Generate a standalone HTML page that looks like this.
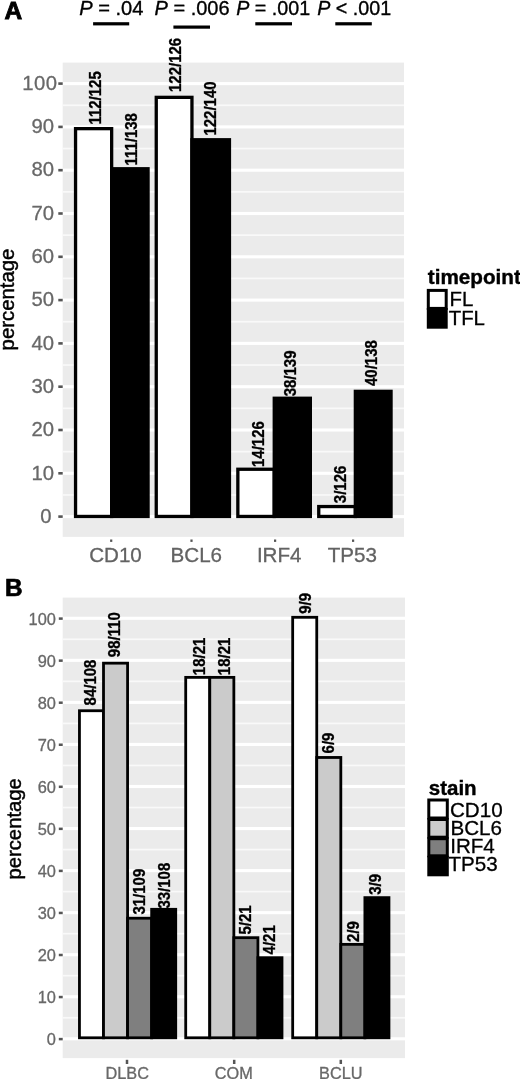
<!DOCTYPE html>
<html><head><meta charset="utf-8"><title>Figure</title>
<style>
html,body{margin:0;padding:0;background:#fff;}
body{width:520px;height:1079px;overflow:hidden;}
svg{display:block;filter:blur(0.45px);font-family:"Liberation Sans",sans-serif;}
svg text{font-family:"Liberation Sans",sans-serif;}
</style></head><body>
<svg width="520" height="1079" viewBox="0 0 520 1079">
<rect x="0" y="0" width="520" height="1079" fill="#fff"/>
<rect x="62.7" y="62.6" width="341.3" height="474.29999999999995" fill="#ebebeb"/>
<rect x="62.7" y="494.10" width="341.3" height="1.7" fill="#f9f9f9"/>
<rect x="62.7" y="450.80" width="341.3" height="1.7" fill="#f9f9f9"/>
<rect x="62.7" y="407.50" width="341.3" height="1.7" fill="#f9f9f9"/>
<rect x="62.7" y="364.20" width="341.3" height="1.7" fill="#f9f9f9"/>
<rect x="62.7" y="320.90" width="341.3" height="1.7" fill="#f9f9f9"/>
<rect x="62.7" y="277.60" width="341.3" height="1.7" fill="#f9f9f9"/>
<rect x="62.7" y="234.30" width="341.3" height="1.7" fill="#f9f9f9"/>
<rect x="62.7" y="191.00" width="341.3" height="1.7" fill="#f9f9f9"/>
<rect x="62.7" y="147.70" width="341.3" height="1.7" fill="#f9f9f9"/>
<rect x="62.7" y="104.40" width="341.3" height="1.7" fill="#f9f9f9"/>
<rect x="62.7" y="515.05" width="341.3" height="3.1" fill="#ffffff"/>
<rect x="62.7" y="471.75" width="341.3" height="3.1" fill="#ffffff"/>
<rect x="62.7" y="428.45" width="341.3" height="3.1" fill="#ffffff"/>
<rect x="62.7" y="385.15" width="341.3" height="3.1" fill="#ffffff"/>
<rect x="62.7" y="341.85" width="341.3" height="3.1" fill="#ffffff"/>
<rect x="62.7" y="298.55" width="341.3" height="3.1" fill="#ffffff"/>
<rect x="62.7" y="255.25" width="341.3" height="3.1" fill="#ffffff"/>
<rect x="62.7" y="211.95" width="341.3" height="3.1" fill="#ffffff"/>
<rect x="62.7" y="168.65" width="341.3" height="3.1" fill="#ffffff"/>
<rect x="62.7" y="125.35" width="341.3" height="3.1" fill="#ffffff"/>
<rect x="62.7" y="82.05" width="341.3" height="3.1" fill="#ffffff"/>
<rect x="58.3" y="515.30" width="4.4" height="2.6" fill="#555555"/>
<text x="51.60" y="522.80" font-size="20.3" font-weight="normal" fill="#686868" stroke="#686868" stroke-width="0.3" text-anchor="end"  style="">0</text>
<rect x="58.3" y="472.00" width="4.4" height="2.6" fill="#555555"/>
<text x="54.00" y="479.50" font-size="20.3" font-weight="normal" fill="#686868" stroke="#686868" stroke-width="0.3" text-anchor="end"  style="">10</text>
<rect x="58.3" y="428.70" width="4.4" height="2.6" fill="#555555"/>
<text x="54.00" y="436.20" font-size="20.3" font-weight="normal" fill="#686868" stroke="#686868" stroke-width="0.3" text-anchor="end"  style="">20</text>
<rect x="58.3" y="385.40" width="4.4" height="2.6" fill="#555555"/>
<text x="54.00" y="392.90" font-size="20.3" font-weight="normal" fill="#686868" stroke="#686868" stroke-width="0.3" text-anchor="end"  style="">30</text>
<rect x="58.3" y="342.10" width="4.4" height="2.6" fill="#555555"/>
<text x="54.00" y="349.60" font-size="20.3" font-weight="normal" fill="#686868" stroke="#686868" stroke-width="0.3" text-anchor="end"  style="">40</text>
<rect x="58.3" y="298.80" width="4.4" height="2.6" fill="#555555"/>
<text x="54.00" y="306.30" font-size="20.3" font-weight="normal" fill="#686868" stroke="#686868" stroke-width="0.3" text-anchor="end"  style="">50</text>
<rect x="58.3" y="255.50" width="4.4" height="2.6" fill="#555555"/>
<text x="54.00" y="263.00" font-size="20.3" font-weight="normal" fill="#686868" stroke="#686868" stroke-width="0.3" text-anchor="end"  style="">60</text>
<rect x="58.3" y="212.20" width="4.4" height="2.6" fill="#555555"/>
<text x="54.00" y="219.70" font-size="20.3" font-weight="normal" fill="#686868" stroke="#686868" stroke-width="0.3" text-anchor="end"  style="">70</text>
<rect x="58.3" y="168.90" width="4.4" height="2.6" fill="#555555"/>
<text x="54.00" y="176.40" font-size="20.3" font-weight="normal" fill="#686868" stroke="#686868" stroke-width="0.3" text-anchor="end"  style="">80</text>
<rect x="58.3" y="125.60" width="4.4" height="2.6" fill="#555555"/>
<text x="54.00" y="133.10" font-size="20.3" font-weight="normal" fill="#686868" stroke="#686868" stroke-width="0.3" text-anchor="end"  style="">90</text>
<rect x="58.3" y="82.30" width="4.4" height="2.6" fill="#555555"/>
<text x="22.30" y="89.80" font-size="20.3" font-weight="normal" fill="#686868" stroke="#686868" stroke-width="0.3" text-anchor="start"  style="letter-spacing:0.5px">100</text>
<rect x="75.55" y="128.65" width="36.10" height="387.80" fill="#fff" stroke="#000" stroke-width="3.3"/>
<rect x="156.25" y="97.35" width="35.70" height="419.10" fill="#fff" stroke="#000" stroke-width="3.3"/>
<rect x="237.85" y="469.25" width="36.40" height="47.20" fill="#fff" stroke="#000" stroke-width="3.3"/>
<rect x="318.75" y="506.55" width="36.60" height="9.90" fill="#fff" stroke="#000" stroke-width="3.3"/>
<rect x="110.00" y="167.10" width="39.70" height="351.00" fill="#000"/>
<rect x="190.30" y="138.10" width="40.80" height="380.00" fill="#000"/>
<rect x="272.60" y="396.60" width="39.40" height="121.50" fill="#000"/>
<rect x="353.70" y="389.70" width="39.00" height="128.40" fill="#000"/>
<text transform="translate(101.00,124.60) rotate(-90) scale(1,1.06)" font-size="15" font-weight="bold" fill="#000" stroke="#000" stroke-width="0.3" >112/125</text>
<text transform="translate(136.90,165.60) rotate(-90) scale(1,1.06)" font-size="15" font-weight="bold" fill="#000" stroke="#000" stroke-width="0.3" >111/138</text>
<text transform="translate(180.80,92.00) rotate(-90) scale(1,1.06)" font-size="15" font-weight="bold" fill="#000" stroke="#000" stroke-width="0.3" >122/126</text>
<text transform="translate(216.00,135.60) rotate(-90) scale(1,1.06)" font-size="15" font-weight="bold" fill="#000" stroke="#000" stroke-width="0.3" >122/140</text>
<text transform="translate(264.00,467.00) rotate(-90) scale(1,1.06)" font-size="15" font-weight="bold" fill="#000" stroke="#000" stroke-width="0.3" >14/126</text>
<text transform="translate(296.30,396.30) rotate(-90) scale(1,1.06)" font-size="15" font-weight="bold" fill="#000" stroke="#000" stroke-width="0.3" >38/139</text>
<text transform="translate(345.90,503.20) rotate(-90) scale(1,1.06)" font-size="15" font-weight="bold" fill="#000" stroke="#000" stroke-width="0.3" >3/126</text>
<text transform="translate(376.80,386.00) rotate(-90) scale(1,1.06)" font-size="15" font-weight="bold" fill="#000" stroke="#000" stroke-width="0.3" >40/138</text>
<rect x="110.10" y="539.5" width="2.2" height="2.4" fill="#555555"/>
<rect x="190.40" y="539.5" width="2.2" height="2.4" fill="#555555"/>
<rect x="274.00" y="539.5" width="2.2" height="2.4" fill="#555555"/>
<rect x="352.00" y="539.5" width="2.2" height="2.4" fill="#555555"/>
<text x="115.50" y="561.60" font-size="20.6" font-weight="normal" fill="#636363" stroke="#636363" stroke-width="0.3" text-anchor="middle"  style="">CD10</text>
<text x="196.30" y="561.60" font-size="20.6" font-weight="normal" fill="#636363" stroke="#636363" stroke-width="0.3" text-anchor="middle"  style="">BCL6</text>
<text x="279.20" y="561.60" font-size="20.6" font-weight="normal" fill="#636363" stroke="#636363" stroke-width="0.3" text-anchor="middle"  style="">IRF4</text>
<text x="352.30" y="561.60" font-size="20.6" font-weight="normal" fill="#636363" stroke="#636363" stroke-width="0.3" text-anchor="middle"  style="">TP53</text>
<text transform="translate(13.70,350.40) rotate(-90) scale(1,1)" font-size="20.35" font-weight="normal" fill="#000" stroke="#000" stroke-width="0.45" >percentage</text>
<text x="79.20" y="14.50" font-size="20.1" font-weight="normal" fill="#000" stroke="#000" stroke-width="0.35" text-anchor="start"  style=""><tspan font-style="italic">P</tspan> = .04</text>
<text x="154.50" y="14.50" font-size="20.0" font-weight="normal" fill="#000" stroke="#000" stroke-width="0.35" text-anchor="start"  style=""><tspan font-style="italic">P</tspan> = .006</text>
<text x="236.20" y="14.50" font-size="19.7" font-weight="normal" fill="#000" stroke="#000" stroke-width="0.35" text-anchor="start"  style=""><tspan font-style="italic">P</tspan> = .001</text>
<text x="317.20" y="14.50" font-size="19.7" font-weight="normal" fill="#000" stroke="#000" stroke-width="0.35" text-anchor="start"  style=""><tspan font-style="italic">P</tspan> &lt; .001</text>
<rect x="93.1" y="22.2" width="36.10" height="3.2" fill="#000"/>
<rect x="173.4" y="25.5" width="36.60" height="3.2" fill="#000"/>
<rect x="255.3" y="22.2" width="36.70" height="3.2" fill="#000"/>
<rect x="335.3" y="22.2" width="36.50" height="3.2" fill="#000"/>
<text x="4.50" y="19.40" font-size="24.5" font-weight="bold" fill="#000" stroke="#000" stroke-width="0.9" text-anchor="start"  style="">A</text>
<text x="5.00" y="595.70" font-size="24.3" font-weight="bold" fill="#000" stroke="#000" stroke-width="0.7" text-anchor="start"  style="">B</text>
<text x="427.80" y="284.30" font-size="20.7" font-weight="bold" fill="#000" stroke="#000" stroke-width="0.4" text-anchor="start"  style="">timepoint</text>
<rect x="428.3" y="290.4" width="17.9" height="18" fill="#fff" stroke="#000" stroke-width="3"/>
<rect x="426.8" y="308" width="20.9" height="20.7" fill="#000"/>
<text x="449.60" y="305.80" font-size="20.4" font-weight="normal" fill="#000" stroke="#000" stroke-width="0.3" text-anchor="start"  style="">FL</text>
<text x="448.70" y="324.90" font-size="20.4" font-weight="normal" fill="#000" stroke="#000" stroke-width="0.3" text-anchor="start"  style="">TFL</text>
<rect x="62.7" y="597.6" width="342.3" height="460.4999999999999" fill="#ebebeb"/>
<rect x="62.7" y="1016.92" width="342.3" height="1.7" fill="#f9f9f9"/>
<rect x="62.7" y="974.87" width="342.3" height="1.7" fill="#f9f9f9"/>
<rect x="62.7" y="932.82" width="342.3" height="1.7" fill="#f9f9f9"/>
<rect x="62.7" y="890.77" width="342.3" height="1.7" fill="#f9f9f9"/>
<rect x="62.7" y="848.72" width="342.3" height="1.7" fill="#f9f9f9"/>
<rect x="62.7" y="806.67" width="342.3" height="1.7" fill="#f9f9f9"/>
<rect x="62.7" y="764.62" width="342.3" height="1.7" fill="#f9f9f9"/>
<rect x="62.7" y="722.57" width="342.3" height="1.7" fill="#f9f9f9"/>
<rect x="62.7" y="680.52" width="342.3" height="1.7" fill="#f9f9f9"/>
<rect x="62.7" y="638.47" width="342.3" height="1.7" fill="#f9f9f9"/>
<rect x="62.7" y="1037.25" width="342.3" height="3.1" fill="#ffffff"/>
<rect x="62.7" y="995.20" width="342.3" height="3.1" fill="#ffffff"/>
<rect x="62.7" y="953.15" width="342.3" height="3.1" fill="#ffffff"/>
<rect x="62.7" y="911.10" width="342.3" height="3.1" fill="#ffffff"/>
<rect x="62.7" y="869.05" width="342.3" height="3.1" fill="#ffffff"/>
<rect x="62.7" y="827.00" width="342.3" height="3.1" fill="#ffffff"/>
<rect x="62.7" y="784.95" width="342.3" height="3.1" fill="#ffffff"/>
<rect x="62.7" y="742.90" width="342.3" height="3.1" fill="#ffffff"/>
<rect x="62.7" y="700.85" width="342.3" height="3.1" fill="#ffffff"/>
<rect x="62.7" y="658.80" width="342.3" height="3.1" fill="#ffffff"/>
<rect x="62.7" y="616.75" width="342.3" height="3.1" fill="#ffffff"/>
<rect x="58.8" y="1037.85" width="3.9" height="2.5" fill="#555555"/>
<text x="55.90" y="1045.00" font-size="16.4" font-weight="normal" fill="#686868" stroke="#686868" stroke-width="0.3" text-anchor="end"  style="">0</text>
<rect x="58.8" y="995.80" width="3.9" height="2.5" fill="#555555"/>
<text x="55.90" y="1002.95" font-size="16.4" font-weight="normal" fill="#686868" stroke="#686868" stroke-width="0.3" text-anchor="end"  style="">10</text>
<rect x="58.8" y="953.75" width="3.9" height="2.5" fill="#555555"/>
<text x="55.90" y="960.90" font-size="16.4" font-weight="normal" fill="#686868" stroke="#686868" stroke-width="0.3" text-anchor="end"  style="">20</text>
<rect x="58.8" y="911.70" width="3.9" height="2.5" fill="#555555"/>
<text x="55.90" y="918.85" font-size="16.4" font-weight="normal" fill="#686868" stroke="#686868" stroke-width="0.3" text-anchor="end"  style="">30</text>
<rect x="58.8" y="869.65" width="3.9" height="2.5" fill="#555555"/>
<text x="55.90" y="876.80" font-size="16.4" font-weight="normal" fill="#686868" stroke="#686868" stroke-width="0.3" text-anchor="end"  style="">40</text>
<rect x="58.8" y="827.60" width="3.9" height="2.5" fill="#555555"/>
<text x="55.90" y="834.75" font-size="16.4" font-weight="normal" fill="#686868" stroke="#686868" stroke-width="0.3" text-anchor="end"  style="">50</text>
<rect x="58.8" y="785.55" width="3.9" height="2.5" fill="#555555"/>
<text x="55.90" y="792.70" font-size="16.4" font-weight="normal" fill="#686868" stroke="#686868" stroke-width="0.3" text-anchor="end"  style="">60</text>
<rect x="58.8" y="743.50" width="3.9" height="2.5" fill="#555555"/>
<text x="55.90" y="750.65" font-size="16.4" font-weight="normal" fill="#686868" stroke="#686868" stroke-width="0.3" text-anchor="end"  style="">70</text>
<rect x="58.8" y="701.45" width="3.9" height="2.5" fill="#555555"/>
<text x="55.90" y="708.60" font-size="16.4" font-weight="normal" fill="#686868" stroke="#686868" stroke-width="0.3" text-anchor="end"  style="">80</text>
<rect x="58.8" y="659.40" width="3.9" height="2.5" fill="#555555"/>
<text x="55.90" y="666.55" font-size="16.4" font-weight="normal" fill="#686868" stroke="#686868" stroke-width="0.3" text-anchor="end"  style="">90</text>
<rect x="58.8" y="617.35" width="3.9" height="2.5" fill="#555555"/>
<text x="55.90" y="624.50" font-size="16.4" font-weight="normal" fill="#686868" stroke="#686868" stroke-width="0.3" text-anchor="end"  style="">100</text>
<rect x="79.45" y="710.74" width="24.07" height="327.06" fill="#ffffff" stroke="#000" stroke-width="2.8"/>
<rect x="103.51" y="663.17" width="24.07" height="374.63" fill="#cbcbcb" stroke="#000" stroke-width="2.8"/>
<rect x="127.58" y="918.21" width="24.07" height="119.59" fill="#7f7f7f" stroke="#000" stroke-width="2.8"/>
<rect x="150.25" y="907.91" width="26.87" height="131.29" fill="#000"/>
<rect x="185.71" y="677.37" width="24.07" height="360.43" fill="#ffffff" stroke="#000" stroke-width="2.8"/>
<rect x="209.78" y="677.37" width="24.07" height="360.43" fill="#cbcbcb" stroke="#000" stroke-width="2.8"/>
<rect x="233.85" y="937.68" width="24.07" height="100.12" fill="#7f7f7f" stroke="#000" stroke-width="2.8"/>
<rect x="256.52" y="956.30" width="26.87" height="82.90" fill="#000"/>
<rect x="292.68" y="617.30" width="24.07" height="420.50" fill="#ffffff" stroke="#000" stroke-width="2.8"/>
<rect x="316.75" y="757.47" width="24.07" height="280.33" fill="#cbcbcb" stroke="#000" stroke-width="2.8"/>
<rect x="340.82" y="944.36" width="24.07" height="93.44" fill="#7f7f7f" stroke="#000" stroke-width="2.8"/>
<rect x="363.49" y="896.23" width="26.87" height="142.97" fill="#000"/>
<text transform="translate(96.00,705.40) rotate(-90) scale(1,1.06)" font-size="15" font-weight="bold" fill="#000" stroke="#000" stroke-width="0.3" >84/108</text>
<text transform="translate(119.80,657.20) rotate(-90) scale(1,1.06)" font-size="15" font-weight="bold" fill="#000" stroke="#000" stroke-width="0.3" >98/110</text>
<text transform="translate(145.40,914.60) rotate(-90) scale(1,1.06)" font-size="15" font-weight="bold" fill="#000" stroke="#000" stroke-width="0.3" >31/109</text>
<text transform="translate(169.80,908.60) rotate(-90) scale(1,1.06)" font-size="15" font-weight="bold" fill="#000" stroke="#000" stroke-width="0.3" >33/108</text>
<text transform="translate(205.40,675.20) rotate(-90) scale(1,1.06)" font-size="15" font-weight="bold" fill="#000" stroke="#000" stroke-width="0.3" >18/21</text>
<text transform="translate(229.60,675.20) rotate(-90) scale(1,1.06)" font-size="15" font-weight="bold" fill="#000" stroke="#000" stroke-width="0.3" >18/21</text>
<text transform="translate(251.00,934.60) rotate(-90) scale(1,1.06)" font-size="15" font-weight="bold" fill="#000" stroke="#000" stroke-width="0.3" >5/21</text>
<text transform="translate(275.00,954.40) rotate(-90) scale(1,1.06)" font-size="15" font-weight="bold" fill="#000" stroke="#000" stroke-width="0.3" >4/21</text>
<text transform="translate(310.80,613.80) rotate(-90) scale(1,1.06)" font-size="15" font-weight="bold" fill="#000" stroke="#000" stroke-width="0.3" >9/9</text>
<text transform="translate(334.20,753.40) rotate(-90) scale(1,1.06)" font-size="15" font-weight="bold" fill="#000" stroke="#000" stroke-width="0.3" >6/9</text>
<text transform="translate(359.20,942.00) rotate(-90) scale(1,1.06)" font-size="15" font-weight="bold" fill="#000" stroke="#000" stroke-width="0.3" >2/9</text>
<text transform="translate(381.30,894.80) rotate(-90) scale(1,1.06)" font-size="15" font-weight="bold" fill="#000" stroke="#000" stroke-width="0.3" >3/9</text>
<rect x="125.75" y="1059.8" width="2.5" height="4.2" fill="#555555"/>
<rect x="232.95" y="1059.8" width="2.5" height="4.2" fill="#555555"/>
<rect x="339.55" y="1059.8" width="2.5" height="4.2" fill="#555555"/>
<text x="127.20" y="1078.80" font-size="16.3" font-weight="normal" fill="#686868" stroke="#686868" stroke-width="0.3" text-anchor="middle"  style="">DLBC</text>
<text x="233.80" y="1078.80" font-size="16.3" font-weight="normal" fill="#686868" stroke="#686868" stroke-width="0.3" text-anchor="middle"  style="">COM</text>
<text x="340.80" y="1078.80" font-size="16.3" font-weight="normal" fill="#686868" stroke="#686868" stroke-width="0.3" text-anchor="middle"  style="">BCLU</text>
<text transform="translate(20.80,879.60) rotate(-90) scale(1,1)" font-size="20.3" font-weight="normal" fill="#000" stroke="#000" stroke-width="0.45" >percentage</text>
<text x="428.80" y="794.80" font-size="20.5" font-weight="bold" fill="#000" stroke="#000" stroke-width="0.4" text-anchor="start"  style="">stain</text>
<rect x="428.8" y="800.00" width="18.5" height="18.00" fill="#ffffff" stroke="#000" stroke-width="3"/>
<rect x="428.8" y="819.50" width="18.5" height="17.70" fill="#cbcbcb" stroke="#000" stroke-width="3"/>
<rect x="428.8" y="838.70" width="18.5" height="17.10" fill="#7f7f7f" stroke="#000" stroke-width="3"/>
<rect x="428.8" y="857.30" width="18.5" height="17.50" fill="#000000" stroke="#000" stroke-width="3"/>
<text x="450.00" y="816.60" font-size="20.6" font-weight="normal" fill="#000" stroke="#000" stroke-width="0.3" text-anchor="start"  style="">CD10</text>
<text x="450.40" y="834.90" font-size="20.6" font-weight="normal" fill="#000" stroke="#000" stroke-width="0.3" text-anchor="start"  style="">BCL6</text>
<text x="450.20" y="852.90" font-size="20.6" font-weight="normal" fill="#000" stroke="#000" stroke-width="0.3" text-anchor="start"  style="">IRF4</text>
<text x="448.40" y="870.90" font-size="20.6" font-weight="normal" fill="#000" stroke="#000" stroke-width="0.3" text-anchor="start"  style="">TP53</text>
</svg>
</body></html>
